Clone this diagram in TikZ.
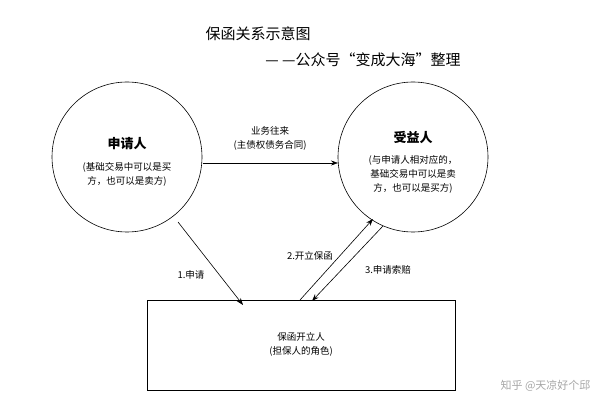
\documentclass[tikz,border=0pt]{standalone}
\usepackage{fontspec}
\setmainfont{Noto Sans CJK SC}
\usetikzlibrary{arrows.meta}
\begin{document}
\begin{tikzpicture}[x=1pt,y=-1pt,
  circ/.style={draw,circle,minimum size=150pt,line width=0.6pt},
  arr/.style={-{Stealth[length=7pt,width=5pt]},line width=0.6pt},
  small/.style={font=\fontsize{9.5}{14}\selectfont,align=center}]
\useasboundingbox (0,0) rectangle (600,409);
\node at (258,34) {\fontsize{15}{17}\selectfont 保函关系示意图};
\node at (363,60) {\fontsize{15}{17}\selectfont — —公众号“变成大海”整理};
\node[circ] (A) at (127,157) {};
\node[circ] (B) at (413,157) {};
\node[font=\fontsize{13}{15}\selectfont\bfseries] (at) at (127,144) {申请人};
\node[small] (ad) at (127,174) {(基础交易中可以是买\\方，也可以是卖方)};
\node[font=\fontsize{13}{15}\selectfont\bfseries] (bt) at (413,138) {受益人};
\node[small] (bd) at (413,174) {(与申请人相对应的，\\基础交易中可以是卖\\方，也可以是买方)};
\node[draw,minimum width=308pt,minimum height=90pt,line width=0.6pt] (C) at (301,345) {};
\node[small] (cd) at (301,344) {保函开立人\\(担保人的角色)};
\coordinate (a1) at (203,163); \coordinate (b1) at (338,163);
\draw[arr] (a1) -- (b1);
\node[small] (l0) at (270,138) {业务往来\\(主债权债务合同)};
\coordinate (a2) at (178,222); \coordinate (c2) at (243,305);
\draw[arr] (a2) -- (c2);
\node[small] (l1) at (191,275) {1.申请};
\coordinate (c3) at (300,300); \coordinate (b3) at (373,219);
\draw[arr] (c3) -- (b3);
\node[small] (l2) at (310,256) {2.开立保函};
\coordinate (b4) at (383,226); \coordinate (c4) at (312,301);
\draw[arr] (b4) -- (c4);
\node[small] (l3) at (388,270) {3.申请索赔};
\node[font=\fontsize{11}{13}\selectfont,text=gray!70,anchor=east] (wm) at (594,386) {知乎 @天凉好个邱};
\end{tikzpicture}
\end{document}
